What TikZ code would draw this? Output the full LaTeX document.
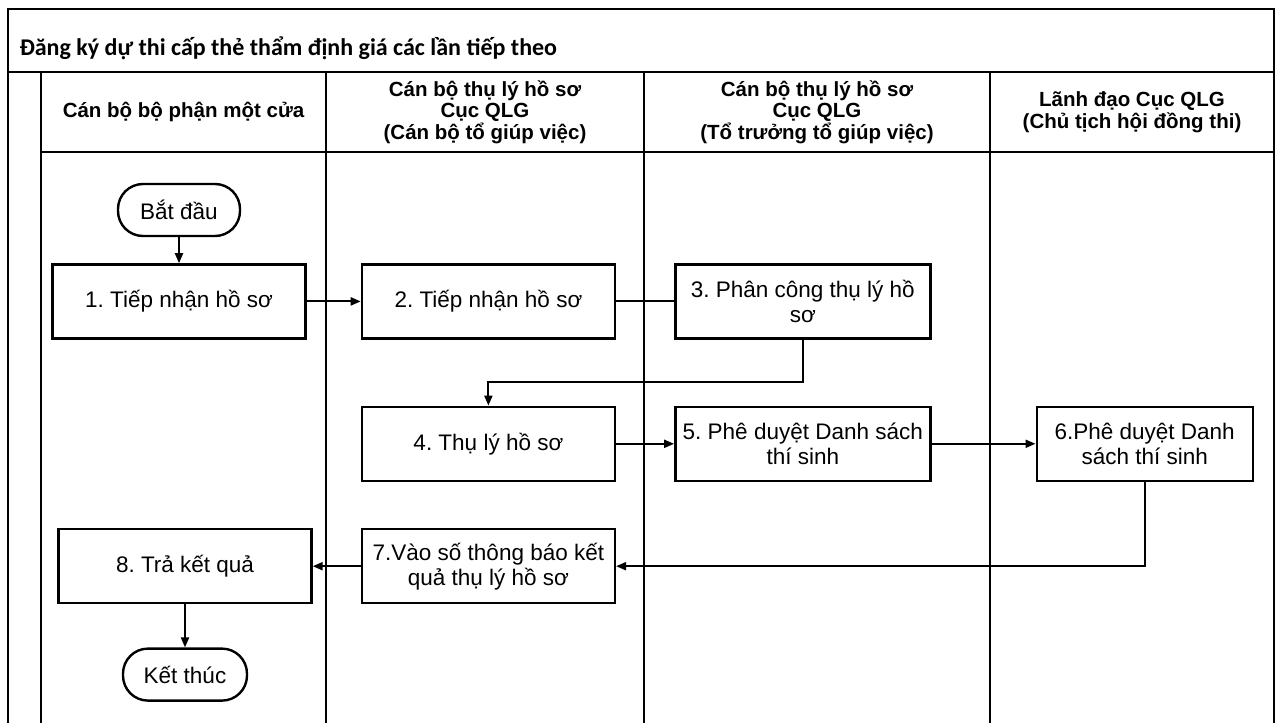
\documentclass[tikz,border=0pt]{standalone}
\usepackage{fontspec}
\setmainfont{Liberation Sans}
\newfontfamily\titlefont{Carlito}
\usepackage{tikz}
\usetikzlibrary{arrows.meta, positioning}
\frenchspacing

\begin{document}
\begin{tikzpicture}[
    x=1pt, y=1pt,
    box/.style={rectangle, draw, line width=2.4pt, inner sep=4pt,
                minimum width=253pt, minimum height=74pt,
                align=center, font=\fontsize{22.5}{25}\selectfont},
    term/.style={box, rounded corners=25pt,
                 minimum width=122pt, minimum height=52pt},
    hdr/.style={align=center, font=\fontsize{20.5}{21.5}\selectfont\bfseries},
    lane/.style={line width=1.5pt},
    arr/.style={-{Triangle[length=10pt, width=8pt]}, line width=2pt},
    link/.style={line width=2pt}
  ]
  \useasboundingbox[fill=white] (0,0) rectangle (1278,-723);

  % pool and lanes
  \draw[line width=2pt] (8,-723) -- (8,-9) -- (1274,-9) -- (1274,-723);
  \draw[lane] (8,-72) -- (1274,-72);
  \draw[lane] (41,-72) -- (41,-723);
  \draw[lane] (41,-152) -- (1274,-152);
  \foreach \x in {326,644,990}
    \draw[lane] (\x,-72) -- (\x,-723);

  \node[anchor=west, font=\titlefont\fontsize{24}{28}\selectfont\bfseries] (title)
    at (16,-48) {Đăng ký dự thi cấp thẻ thẩm định giá các lần tiếp theo};

  \node[hdr] (h1) at (183.5,-112) {Cán bộ bộ phận một cửa};
  \node[hdr] (h2) at (485,-112) {Cán bộ thụ lý hồ sơ\\Cục QLG\\(Cán bộ tổ giúp việc)};
  \node[hdr] (h3) at (817,-112) {Cán bộ thụ lý hồ sơ\\Cục QLG\\(Tổ trưởng tổ giúp việc)};
  \node[hdr] (h4) at (1132,-112) {Lãnh đạo Cục QLG\\(Chủ tịch hội đồng thi)};

  % steps
  \node[term] (bd) at (179,-210) {Bắt đầu};
  \node[box, below=26pt of bd] (tn1) {1. Tiếp nhận hồ sơ};
  \node[box, right=54pt of tn1] (tn2) {2. Tiếp nhận hồ sơ};
  \node[box, right=58pt of tn2, minimum width=255pt] (pc) {3. Phân công thụ lý hồ\\sơ};
  \node[box, below=66pt of tn2] (tl) {4. Thụ lý hồ sơ};
  \node[box, below=66pt of pc, minimum width=255pt] (pd5) {5. Phê duyệt Danh sách\\thí sinh};
  \node[box, right=104pt of pd5, minimum width=216pt] (pd6) {6.Phê duyệt Danh\\sách thí sinh};
  \node[box, below=46pt of tl] (vs) {7.Vào số thông báo kết\\quả thụ lý hồ sơ};
  \node[box, left=48pt of vs] (tk) {8. Trả kết quả};
  \node[term, below=43pt of tk, minimum width=124pt] (kt) {Kết thúc};

  % flow
  \draw[arr] (bd) -- (tn1);
  \draw[arr] (tn1) -- (tn2);
  \draw[link] (tn2) -- (pc);
  \draw[arr] (pc.south) -- ++(0,-42) -| (tl.north);
  \draw[arr] (tl) -- (pd5);
  \draw[arr] (pd5) -- (pd6);
  \draw[arr] (pd6.south) |- (vs.east);
  \draw[arr] (vs) -- (tk);
  \draw[arr] (tk) -- (kt);
\end{tikzpicture}
\end{document}
